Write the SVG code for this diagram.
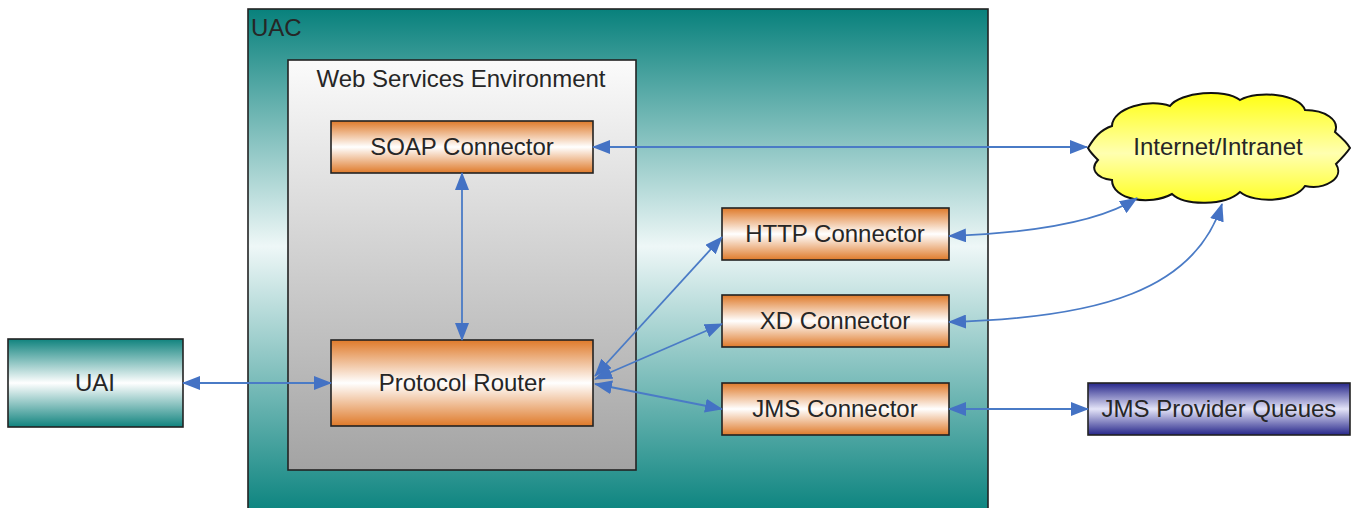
<svg xmlns="http://www.w3.org/2000/svg" width="1352" height="508" viewBox="0 0 1352 508">
<defs>
<linearGradient id="gUAC" x1="0" y1="0" x2="0" y2="1">
<stop offset="0" stop-color="#08817c"/><stop offset="0.47" stop-color="#eef7f7"/><stop offset="1" stop-color="#0a837e"/>
</linearGradient>
<linearGradient id="gWSE" x1="0" y1="0" x2="0" y2="1">
<stop offset="0" stop-color="#fbfbfb"/><stop offset="1" stop-color="#a3a3a3"/>
</linearGradient>
<linearGradient id="gOr" x1="0" y1="0" x2="0" y2="1">
<stop offset="0" stop-color="#df7a2a"/><stop offset="0.5" stop-color="#ffffff"/><stop offset="1" stop-color="#df7a2a"/>
</linearGradient>
<linearGradient id="gTeal" x1="0" y1="0" x2="0" y2="1">
<stop offset="0" stop-color="#10837e"/><stop offset="0.5" stop-color="#ffffff"/><stop offset="1" stop-color="#10837e"/>
</linearGradient>
<linearGradient id="gBlue" x1="0" y1="0" x2="0" y2="1">
<stop offset="0" stop-color="#26268a"/><stop offset="0.5" stop-color="#e4e4f8"/><stop offset="1" stop-color="#26268a"/>
</linearGradient>
<linearGradient id="gCloud" x1="0" y1="0" x2="0" y2="1">
<stop offset="0" stop-color="#ffff10"/><stop offset="0.55" stop-color="#ffffb0"/><stop offset="1" stop-color="#ffff20"/>
</linearGradient>
<marker id="arr" viewBox="0 0 18 14" refX="17" refY="7" markerWidth="18" markerHeight="14" markerUnits="userSpaceOnUse" orient="auto-start-reverse">
<path d="M0,0 L18,7 L0,14 z" fill="#4472c4"/>
</marker>
</defs>
<style>
.box{stroke:#222;stroke-width:1.6}
.lbl{font-family:"Liberation Sans",Arial,sans-serif;font-size:24px;fill:#262626;text-anchor:middle}
.ttl{font-family:"Liberation Sans",Arial,sans-serif;font-size:24px;fill:#262626}
.con{fill:none;stroke:#4a7bc6;stroke-width:1.8;marker-start:url(#arr);marker-end:url(#arr)}
</style>
<rect width="1352" height="508" fill="#ffffff"/>
<g id="uac">
<rect class="box" x="248" y="9" width="740" height="505" fill="url(#gUAC)"/>
<text class="ttl" x="251" y="36">UAC</text>
</g>
<g id="wse">
<rect class="box" x="288" y="60" width="348" height="410" fill="url(#gWSE)"/>
<text class="lbl" x="461" y="87">Web Services Environment</text>
</g>
<g id="soap">
<rect class="box" x="331" y="121" width="262" height="52" fill="url(#gOr)"/>
<text class="lbl" x="462" y="155">SOAP Connector</text>
</g>
<g id="router">
<rect class="box" x="331" y="340" width="262" height="86" fill="url(#gOr)"/>
<text class="lbl" x="462" y="391">Protocol Router</text>
</g>
<g id="http">
<rect class="box" x="722" y="208" width="227" height="52" fill="url(#gOr)"/>
<text class="lbl" x="835" y="242">HTTP Connector</text>
</g>
<g id="xd">
<rect class="box" x="722" y="295" width="227" height="52" fill="url(#gOr)"/>
<text class="lbl" x="835" y="329">XD Connector</text>
</g>
<g id="jms">
<rect class="box" x="722" y="383" width="227" height="52" fill="url(#gOr)"/>
<text class="lbl" x="835" y="417">JMS Connector</text>
</g>
<g id="uai">
<rect class="box" x="8" y="339" width="175" height="88" fill="url(#gTeal)"/>
<text class="lbl" x="95" y="391">UAI</text>
</g>
<g id="jmsp">
<rect class="box" x="1088" y="383" width="262" height="52" fill="url(#gBlue)"/>
<text class="lbl" x="1219" y="417">JMS Provider Queues</text>
</g>
<g id="internet">
<path stroke="#111" stroke-width="2" fill="url(#gCloud)" d="M1088,148 C1094,138 1100,130 1112,126 C1112,108 1150,98 1170,106 C1180,92 1225,88 1240,100 C1258,90 1300,94 1305,110 C1325,110 1340,120 1335,132 C1342,138 1348,144 1350,148 C1346,154 1340,160 1336,164 C1345,178 1325,190 1305,186 C1295,202 1255,204 1240,192 C1225,206 1185,206 1172,194 C1150,206 1112,200 1112,180 C1095,178 1090,168 1098,160 C1094,156 1090,152 1088,148 Z"/>
<text class="lbl" x="1218" y="155">Internet/Intranet</text>
</g>
<g id="connectors">
<path class="con" d="M593,147 L1087,147"/>
<path class="con" d="M462,173 L462,340"/>
<path class="con" d="M183,383 L331,383"/>
<path class="con" d="M595,376 L722,237"/>
<path class="con" d="M595,379 L722,324"/>
<path class="con" d="M595,384 L722,409"/>
<path class="con" d="M949,236 C1030,233 1100,222 1137,198"/>
<path class="con" d="M949,322 C1100,318 1195,290 1222,204"/>
<path class="con" d="M949,409 L1088,409"/>
</g>
</svg>
